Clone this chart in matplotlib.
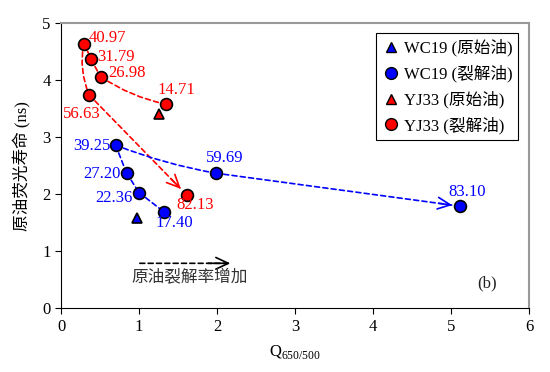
import numpy as np
import matplotlib
matplotlib.use('Agg')
import matplotlib.pyplot as plt
from matplotlib.patches import FancyArrowPatch
from matplotlib.lines import Line2D

plt.rcParams['font.family'] = ['Liberation Serif', 'Noto Sans CJK SC']
plt.rcParams['font.size'] = 12

### DATA ###
# WC19 original oil
wc19_raw_x = [0.98]
wc19_raw_y = [1.58]
# WC19 cracked oil (labels = cracking rate %)
wc19_x = [0.70, 0.84, 1.00, 1.32, 1.98, 5.12]
wc19_y = [2.86, 2.37, 2.03, 1.69, 2.37, 1.79]
wc19_lab = ['39.25', '27.20', '22.36', '17.40', '59.69', '83.10']
# YJ33 original oil
yj33_raw_x = [1.25]
yj33_raw_y = [3.40]
# YJ33 cracked oil
yj33_x = [0.29, 0.39, 0.51, 1.34, 0.36, 1.61]
yj33_y = [4.64, 4.37, 4.06, 3.58, 3.74, 1.99]
yj33_lab = ['40.97', '31.79', '26.98', '14.71', '56.63', '82.13']

# label offsets in points (centre of text relative to point)
wc19_off = [(-17.3, -0.5), (-17.8, -0.7), (-17.8, -4), (7.7, -8.1), (6.7, 11.2), (4.8, 10.5)]
yj33_off = [(16.8, 4.3), (17.7, 1.2), (18.5, 2.4), (8, 10), (-5.5, -14), (6.2, -7.2)]

# dashed connections: (from, to, rad, arrow head?)
wc19_links = [(0, 1, 0, False), (1, 2, 0, False), (2, 3, 0, False), (0, 4, 0.05, False), (4, 5, 0.0, True)]
yj33_links = [(0, 1, 0, False), (1, 2, 0.05, False), (2, 3, 0.1, False), (0, 4, 0.15, False), (4, 5, 0, True)]

fig = plt.figure(figsize=(5.5, 3.72), dpi=100)
ax = fig.add_axes([0.111, 0.171, 0.851, 0.767])
ax.set_xlim(0, 6)
ax.set_ylim(0, 5)

def head(p0, p1, color, shrink=6):
    # solid open arrow head at end of a dashed line
    d0 = ax.transData.transform(p0)
    d1 = ax.transData.transform(p1)
    u = (d1 - d0) / np.hypot(*(d1 - d0))
    start = ax.transData.inverted().transform(d1 - u * 22)
    ax.annotate('', xy=p1, xytext=start,
                arrowprops=dict(arrowstyle='->,head_length=0.75,head_width=0.35',
                                color=color, lw=1.2, shrinkA=0, shrinkB=shrink,
                                mutation_scale=12), zorder=3)

def links(xs, ys, lk, color):
    for a, b, rad, arr in lk:
        p0, p1 = (xs[a], ys[a]), (xs[b], ys[b])
        ax.add_patch(FancyArrowPatch(p0, p1, arrowstyle='-',
                                     connectionstyle=f'arc3,rad={rad}',
                                     color=color, lw=1.2, linestyle=(0, (3, 2)),
                                     shrinkA=0, shrinkB=6 if arr else 0, zorder=2))
        if arr:
            head(p0, p1, color)

links(yj33_x, yj33_y, yj33_links, 'red')
links(wc19_x, wc19_y, wc19_links, 'blue')

mk = dict(markeredgecolor='black', markeredgewidth=1.2, linestyle='none', zorder=4)
ax.plot(wc19_raw_x, wc19_raw_y, marker='^', color='blue', markersize=7.5, **mk)
ax.plot(wc19_x, wc19_y, marker='o', color='blue', markersize=8.5, **mk)
ax.plot(yj33_raw_x, yj33_raw_y, marker='^', color='red', markersize=7.5, **mk)
ax.plot(yj33_x, yj33_y, marker='o', color='red', markersize=8.5, **mk)

for x, y, t, o in zip(wc19_x, wc19_y, wc19_lab, wc19_off):
    ax.annotate(t, (x, y), xytext=o, textcoords='offset points', ha='center', va='center',
                color='blue', fontsize=12, zorder=5)
for x, y, t, o in zip(yj33_x, yj33_y, yj33_lab, yj33_off):
    ax.annotate(t, (x, y), xytext=o, textcoords='offset points', ha='center', va='center',
                color='red', fontsize=12, zorder=5)

# trend arrow
ax.add_patch(FancyArrowPatch((1.01, 0.79), (2.17, 0.79), arrowstyle='-', color='black',
                             lw=1.2, linestyle=(0, (3, 2)), shrinkA=0, shrinkB=0))
head((1.01, 0.79), (2.17, 0.79), 'black', shrink=0)
ax.text(1.65, 0.55, '原油裂解率增加', ha='center', va='center', fontsize=12, color='#333333')
ax.text(5.46, 0.43, '(b)', ha='center', va='center', fontsize=12, color='#222222')

handles = [
    Line2D([], [], marker='^', color='blue', markersize=7.5, markeredgecolor='black', linestyle='none'),
    Line2D([], [], marker='o', color='blue', markersize=8.5, markeredgecolor='black', linestyle='none'),
    Line2D([], [], marker='^', color='red', markersize=7.5, markeredgecolor='black', linestyle='none'),
    Line2D([], [], marker='o', color='red', markersize=8.5, markeredgecolor='black', linestyle='none'),
]
leg = ax.legend(handles, ['WC19 (原始油)', 'WC19 (裂解油)', 'YJ33 (原始油)', 'YJ33 (裂解油)'],
                loc='upper right', bbox_to_anchor=(0.977, 0.965), borderaxespad=0,
                fancybox=False, edgecolor='black', framealpha=1, fontsize=12,
                handlelength=1.0, handletextpad=0.3, labelspacing=0.5, borderpad=0.35)
leg.get_frame().set_linewidth(0.8)

for s in ['top', 'right']:
    ax.spines[s].set_color('#999999')
    ax.spines[s].set_linewidth(1.5)
for s in ['left', 'bottom']:
    ax.spines[s].set_color('black')
    ax.spines[s].set_linewidth(0.8)
ax.tick_params(direction='out', length=4, width=0.8, labelsize=12, colors='black')
ax.set_xticks(range(7))
ax.set_yticks(range(6))
ax.set_xlabel(r'Q$_{\mathregular{650/500}}$', fontsize=12, labelpad=6)
ax.set_ylabel('原油荧光寿命 (ns)', fontsize=12, labelpad=8)

fig.savefig('out.png', dpi=100)
